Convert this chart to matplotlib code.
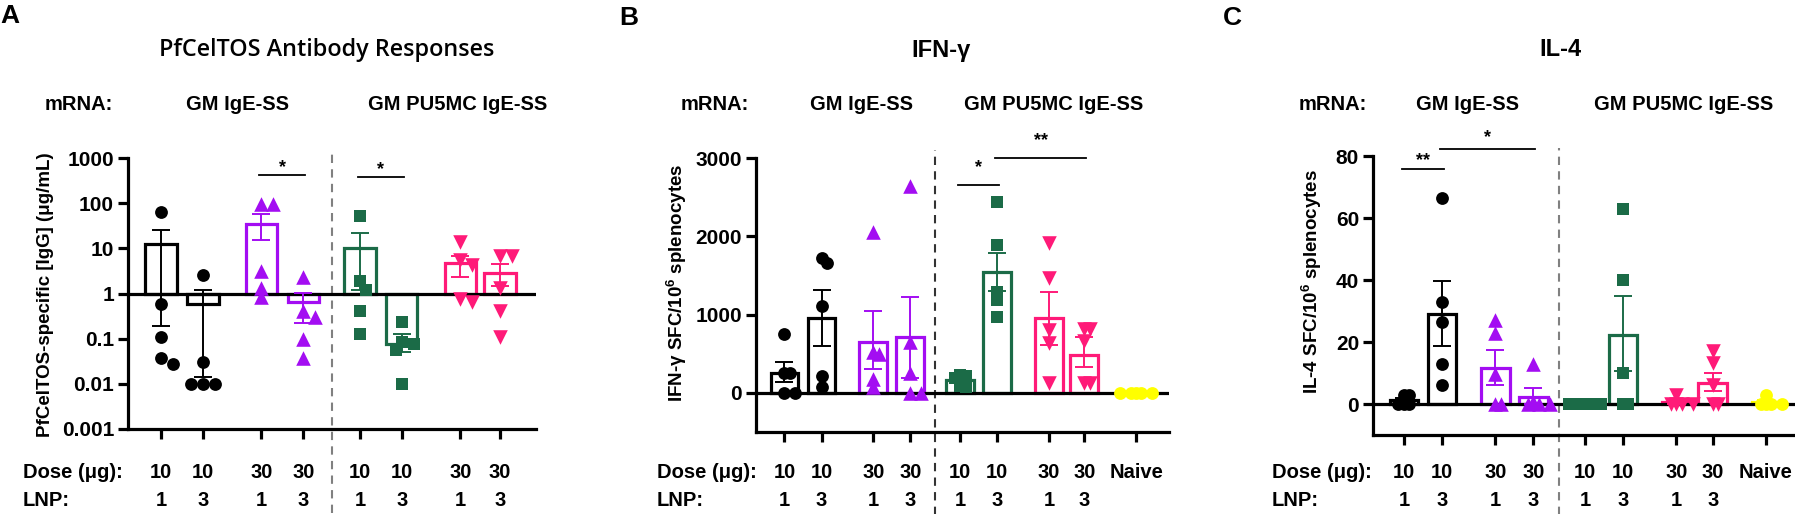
import numpy as np
import matplotlib
matplotlib.use("Agg")
import matplotlib.pyplot as plt
from matplotlib.transforms import blended_transform_factory as blend

plt.rcParams['font.family'] = ['Liberation Sans', 'DejaVu Sans']
plt.rcParams['font.weight'] = 'bold'
plt.rcParams['mathtext.fontset'] = 'custom'
plt.rcParams['mathtext.rm'] = 'Liberation Sans:bold'
plt.rcParams['mathtext.bf'] = 'Liberation Sans:bold'
plt.rcParams['mathtext.it'] = 'Liberation Sans:bold'

# x categories
dose_labels = ['10', '10', '30', '30', '10', '10', '30', '30', 'Naive']
lnp_labels = ['1', '3', '1', '3', '1', '3', '1', '3', '']
mrna_groups = ['GM IgE-SS', 'GM PU5MC IgE-SS']

# A: PfCelTOS-specific IgG (ug/mL)
ab_points = [
    [65, 0.6, 0.11, 0.028, 0.037],
    [2.6, 0.03, 0.01, 0.01, 0.01],
    [98, 95, 3.2, 1.35, 0.82],
    [2.3, 0.42, 0.3, 0.1, 0.037],
    [52, 1.9, 1.2, 0.4, 0.13],
    [0.23, 0.085, 0.075, 0.055, 0.01],
    [14, 5.5, 4.2, 0.75, 0.65],
    [6.8, 6.6, 1.3, 0.42, 0.11],
]
ab_mean = [12.7, 0.6, 35, 0.66, 10.4, 0.075, 4.8, 2.8]
ab_err_lo = [0.19, 0.014, 15.6, 0.22, 1.2, 0.05, 2.3, 1.5]
ab_err_hi = [26, 1.17, 58, 1.05, 22, 0.125, 6.9, 4.4]

# B: IFN-g SFC / 10^6 splenocytes
ifn_points = [
    [750, 260, 255, 0, 0],
    [1720, 1660, 1110, 220, 80],
    [2050, 520, 500, 180, 80],
    [2640, 650, 260, 0, 0],
    [70, 90, 190, 210, 230],
    [2440, 1890, 1290, 1190, 970],
    [1910, 1465, 800, 640, 130],
    [820, 810, 660, 130, 120],
    [0, 0, 0, 0, 0],
]
ifn_mean = [250, 960, 650, 710, 160, 1545, 955, 485, 0]
ifn_err_lo = [140, 600, 310, 190, 120, 1300, 610, 330, 0]
ifn_err_hi = [400, 1310, 1040, 1230, 200, 1790, 1290, 710, 0]

# C: IL-4 SFC / 10^6 splenocytes
il4_points = [
    [3, 3, 0, 0, 0],
    [66.6, 33, 26.6, 13, 6.2],
    [27, 23, 9.7, 0, 0],
    [13, 0.5, 0, 0, 0],
    [0, 0, 0, 0, 0],
    [63, 40, 10, 0, 0],
    [3, 0, 0, 0, 0],
    [17, 13.3, 6, 0, 0],
    [3, 0, 0, 0, 0],
]
il4_mean = [1.2, 29, 11.5, 2.3, 0, 22.3, 0.6, 6.9, 0.6]
il4_err_lo = [0.6, 18.6, 6, 0, 0, 10.5, 0, 4.2, 0]
il4_err_hi = [1.8, 39.6, 17.5, 5.3, 0, 35, 1.2, 10, 1.2]

# significance: (group i, group j, label)
ab_sig = [(2, 3, '*'), (4, 5, '*')]
ifn_sig = [(4, 5, '*'), (5, 7, '**')]
il4_sig = [(0, 1, '**'), (1, 3, '*')]

# ---- layout / style ----
W, H = 1795, 514
purple, green, pink, yellow = '#a30df2', '#1b6b47', '#ff1a78', '#ffff00'
colors = ['black', 'black', purple, purple, green, green, pink, pink, yellow]
markers = ['o', 'o', '^', '^', 's', 's', 'v', 'v', 'o']
msize = {'o': 85, '^': 110, 'v': 110, 's': 75}
pos = np.array([0, 1, 2.4, 3.4, 4.75, 5.75, 7.15, 8.1, 9.5])
divider = (pos[3] + pos[4]) / 2
FS = 14.5

fig = plt.figure(figsize=(W / 100, H / 100), dpi=100)


def add_ax(l, t, r, b):
    return fig.add_axes([l / W, 1 - b / H, (r - l) / W, (b - t) / H])


def ftext(px, py, s, **kw):
    fig.text(px / W, 1 - py / H, s, **kw)


def swarm_x(ax, x0, vals, diam=12, gap=0.7):
    # simple beeswarm in pixel space
    t = ax.transData
    placed = []
    out = np.zeros(len(vals))
    step = diam * min(gap, 0.5)
    for i in np.argsort(vals)[::-1]:
        xd, yd = t.transform((x0, vals[i]))
        for k in [0, 1, -1, 2, -2, 3, -3, 4, -4, 5, -5]:
            cx = xd + k * step
            if all(np.hypot(cx - px, yd - py) >= diam * gap for px, py in placed):
                break
        placed.append((cx, yd))
        out[i] = t.inverted().transform((cx, yd))[0]
    return out


def panel(ax, points, mean, lo, hi, base, sig, sig_y, dash_col, gap):
    n = len(points)
    for i in range(n):
        c = colors[i]
        if mean[i] != base:
            ax.bar(pos[i], mean[i] - base, bottom=base, width=0.75,
                   facecolor='white', edgecolor=c, linewidth=2.3, zorder=2)
        xs = swarm_x(ax, pos[i], points[i], gap=gap)
        ax.scatter(xs, points[i], marker=markers[i], s=msize[markers[i]],
                   color=c, linewidths=0, zorder=3, clip_on=False)
        if hi[i] != lo[i]:
            ax.errorbar(pos[i], mean[i], yerr=[[mean[i] - lo[i]], [hi[i] - mean[i]]],
                        fmt='none', ecolor=c, elinewidth=1.4, capsize=6.5,
                        capthick=1.4, zorder=4)
    ax.axhline(base, color='black', lw=2.3, zorder=2.5)
    ax.axvline(divider, ymin=-0.31, ymax=1.03, color=dash_col, lw=1.5,
               ls=(0, (4, 3)), clip_on=False)
    for (i, j, lab), (ly, sy) in zip(sig, sig_y):
        ax.plot([pos[i] - 0.05, pos[j] + 0.05], [ly, ly], color='black', lw=1.3,
                clip_on=False)
        ax.text((pos[i] + pos[j]) / 2, sy, lab, ha='center', va='center',
                fontsize=13, clip_on=False)
    ax.spines[['top', 'right']].set_visible(False)
    ax.spines[['left', 'bottom']].set_linewidth(2.3)
    ax.set_xticks(pos[:n])
    ax.set_xticklabels([])
    ax.tick_params(width=2.3, length=7, labelsize=15, pad=3)
    ax.tick_params(axis='y', which='minor', left=False)
    tr = blend(ax.transData, fig.transFigure)
    for i in range(n):
        ax.text(pos[i], 1 - 473 / H, dose_labels[i], transform=tr,
                ha='center', va='center', fontsize=FS)
        ax.text(pos[i], 1 - 500 / H, lnp_labels[i], transform=tr,
                ha='center', va='center', fontsize=FS)


# ---------- A ----------
axA = add_ax(128, 158, 536, 429)
axA.set_yscale('log')
axA.set_ylim(1e-3, 1e3)
axA.set_xlim(-0.79, 8.96)
axA.set_yticks([1e-3, 1e-2, 1e-1, 1, 10, 100, 1000])
axA.set_yticklabels(['0.001', '0.01', '0.1', '1', '10', '100', '1000'])
panel(axA, ab_points, ab_mean, ab_err_lo, ab_err_hi, 1, ab_sig,
      [(425, 620), (383, 560)], '#808080', 0.8)

# ---------- B ----------
axB = add_ax(756, 158, 1169, 432)
axB.set_ylim(-500, 3000)
axB.set_xlim(-0.77, 10.39)
axB.set_yticks([0, 1000, 2000, 3000])
panel(axB, ifn_points, ifn_mean, ifn_err_lo, ifn_err_hi, 0, ifn_sig,
      [(2650, 2880), (3000, 3220)], '#333333', 0.45)

# ---------- C ----------
axC = add_ax(1373, 156, 1795, 435)
axC.set_ylim(-10, 80)
axC.set_xlim(-0.81, 10.26)
axC.set_yticks([0, 20, 40, 60, 80])
panel(axC, il4_points, il4_mean, il4_err_lo, il4_err_hi, 0, il4_sig,
      [(75.7, 78.5), (82.2, 86)], '#808080', 0.45)

# ---------- texts ----------
ftext(0, 4, 'A', fontsize=19, ha='left', va='top')
ftext(619, 6, 'B', fontsize=19, ha='left', va='top')
ftext(1223, 6, 'C', fontsize=19, ha='left', va='top')

ftext(327, 50, 'PfCelTOS Antibody Responses', fontsize=16.8, ha='center',
      va='center', family='Open Sans', weight='semibold')
ftext(941, 50, 'IFN-γ', fontsize=17, ha='center', va='center')
ftext(1560, 50, 'IL-4', fontsize=17, ha='center', va='center')

for x0, c1, c2 in [(45, 237, 458), (681, 862, 1054), (1299, 1467, 1684)]:
    ftext(x0, 105, 'mRNA:', fontsize=FS, ha='left', va='center')
    ftext(c1, 105, mrna_groups[0], fontsize=FS, ha='center', va='center')
    ftext(c2, 105, mrna_groups[1], fontsize=FS, ha='center', va='center')

for x0 in [23, 657, 1272]:
    ftext(x0, 473, 'Dose (μg):', fontsize=FS, ha='left', va='center')
    ftext(x0, 500, 'LNP:', fontsize=FS, ha='left', va='center')

ftext(46, 295, 'PfCelTOS-specific [IgG] (μg/mL)', fontsize=13.5, rotation=90,
      ha='center', va='center')
ftext(677, 283, 'IFN-γ SFC/10$^{\\mathbf{6}}$ splenocytes', fontsize=13.5,
      rotation=90, ha='center', va='center')
ftext(1312, 282, 'IL-4 SFC/10$^{\\mathbf{6}}$ splenocytes', fontsize=13.5,
      rotation=90, ha='center', va='center')

fig.savefig('out.png', dpi=100)
